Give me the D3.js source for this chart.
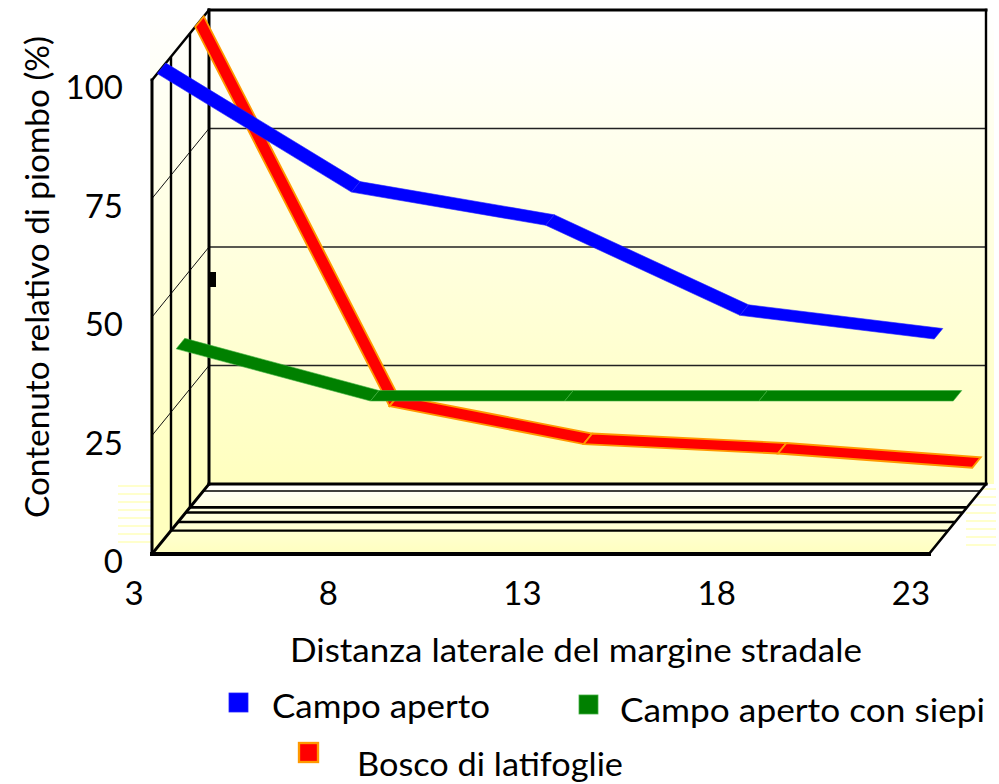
<!DOCTYPE html>
<html>
<head>
<meta charset="utf-8">
<script src="https://cdn.jsdelivr.net/npm/d3@7"></script>
<style>
  body { margin: 0; background: #fff; }
  svg { display: block; }
  text { font-family: Lato, "Open Sans", sans-serif; fill: #000; }
</style>
</head>
<body>
<svg id="chart" width="999" height="784"></svg>
<script>
// Distance from the road edge (m) and relative lead content (%)
const categories = [3, 8, 13, 18, 23];
const seriesNames = ["Campo aperto", "Campo aperto con siepi", "Bosco di latifoglie"];
const campoAperto = [100, 75, 68, 49, 44];
const campoApertoSiepi = [37, 26, 26, 26, 26];
const boscoLatifoglie = [100, 20, 12, 10, 7];
const valueTicks = [0, 25, 50, 75, 100];
const xTitle = "Distanza laterale del margine stradale";
const yTitle = "Contenuto relativo di piombo (%)";

const series = [
  { name: seriesNames[0], values: campoAperto, fill: "#0000ff", edge: "#2020ff", edgeW: 0.6 },
  { name: seriesNames[1], values: campoApertoSiepi, fill: "#008000", edge: "#40b040", edgeW: 0.6 },
  { name: seriesNames[2], values: boscoLatifoglie, fill: "#ff0000", edge: "#ff9900", edgeW: 1.8 }
];

const svg = d3.select("#chart");

// Front plane of the 3D box, plus the depth vector toward the back wall
const x = d3.scalePoint().domain(categories).range([152, 929]);
const y = d3.scaleLinear().domain([0, 100]).range([554, 80]);
const DX = 57, DY = -70;
const proj = (c, v, d) => [x(c) + DX * d, y(v) + DY * d];
const c0 = categories[0], cN = categories[categories.length - 1];
const vMin = 0, vMax = 100;

// Gradients
const defs = svg.append("defs");
const wallGrad = defs.append("linearGradient").attr("id", "wallGrad")
  .attr("gradientUnits", "userSpaceOnUse")
  .attr("x1", 0).attr("y1", 10).attr("x2", 0).attr("y2", 484);
wallGrad.append("stop").attr("offset", 0).attr("stop-color", "#ffffff");
wallGrad.append("stop").attr("offset", 1).attr("stop-color", "#ffffbf");
const floorGrad = defs.append("linearGradient").attr("id", "floorGrad")
  .attr("gradientUnits", "userSpaceOnUse")
  .attr("x1", 0).attr("y1", 484).attr("x2", 0).attr("y2", 554);
floorGrad.append("stop").attr("offset", 0).attr("stop-color", "#ffffff");
floorGrad.append("stop").attr("offset", 0.25).attr("stop-color", "#ffffe8");
floorGrad.append("stop").attr("offset", 1).attr("stop-color", "#ffffbf");

const line = d3.line();
const g = svg.append("g");

// Plot-area backdrop
const bTL = proj(c0, vMax, 1), bBR = proj(cN, vMin, 1);
g.append("rect")
  .attr("x", x(c0) - 2).attr("y", bTL[1])
  .attr("width", bBR[0] - x(c0) + 10).attr("height", bBR[1] - bTL[1])
  .attr("fill", "url(#wallGrad)");

// faint banding beside the floor
for (let i = 0; i < 8; i++) {
  const yy = 486 + i * 8;
  g.append("line").attr("x1", x(c0) - 34).attr("x2", x(c0)).attr("y1", yy).attr("y2", yy)
    .attr("stroke", "#ffffcc").attr("stroke-width", 2);
  g.append("line").attr("x1", bBR[0] - 20).attr("x2", bBR[0] + 10).attr("y1", yy + 3).attr("y2", yy + 3)
    .attr("stroke", "#ffffcc").attr("stroke-width", 2);
}

// Back wall
g.append("path")
  .attr("d", line([proj(c0, vMin, 1), proj(cN, vMin, 1), proj(cN, vMax, 1), proj(c0, vMax, 1)]) + "Z")
  .attr("fill", "url(#wallGrad)");
// Side wall
g.append("path")
  .attr("d", line([proj(c0, vMin, 0), proj(c0, vMin, 1), proj(c0, vMax, 1), proj(c0, vMax, 0)]) + "Z")
  .attr("fill", "url(#wallGrad)");
// Floor
g.append("path")
  .attr("d", line([proj(c0, vMin, 0), proj(cN, vMin, 0), proj(cN, vMin, 1), proj(c0, vMin, 1)]) + "Z")
  .attr("fill", "url(#floorGrad)");

// Value gridlines on back wall and side wall
valueTicks.filter(v => v > vMin && v < vMax).forEach(v => {
  g.append("path").attr("d", line([proj(c0, v, 1), proj(cN, v, 1)]))
    .attr("stroke", "#222").attr("stroke-width", 1.3).attr("fill", "none");
  g.append("path").attr("d", line([proj(c0, v, 0), proj(c0, v, 1)]))
    .attr("stroke", "#111").attr("stroke-width", 1).attr("fill", "none");
});

// Depth rules across the floor and up the side wall
const floorRules = [
  { d: 1 / 3, w: 2.2 }, { d: 0.457, w: 2.4 }, { d: 0.593, w: 2.4 },
  { d: 2 / 3, w: 2.6 }, { d: 0.9, w: 1.6 }
];
floorRules.forEach(r => {
  g.append("path").attr("d", line([proj(c0, vMin, r.d), proj(cN, vMin, r.d)]))
    .attr("stroke", "#000").attr("stroke-width", r.w).attr("fill", "none");
});
[1 / 3, 2 / 3].forEach(d => {
  g.append("path").attr("d", line([proj(c0, vMin, d), proj(c0, vMax, d)]))
    .attr("stroke", "#000").attr("stroke-width", 2.4).attr("fill", "none");
});

// Box edges
const edges = [
  { p: [proj(c0, vMin, 1), proj(cN, vMin, 1)], w: 3 },
  { p: [proj(c0, vMax, 1), proj(cN, vMax, 1)], w: 3 },
  { p: [proj(cN, vMin, 1), proj(cN, vMax, 1)], w: 2.4 },
  { p: [proj(c0, vMin, 1), proj(c0, vMax, 1)], w: 3 },
  { p: [proj(c0, vMin, 0), proj(c0, vMax, 0)], w: 3 },
  { p: [proj(c0, vMax, 0), proj(c0, vMax, 1)], w: 2.4 },
  { p: [proj(c0, vMin, 0), proj(c0, vMin, 1)], w: 3 },
  { p: [proj(cN, vMin, 0), proj(cN, vMin, 1)], w: 2.6 },
  { p: [proj(c0, vMin, 0), proj(cN, vMin, 0)], w: 4 }
];
edges.forEach(e => {
  g.append("path").attr("d", line(e.p)).attr("stroke", "#000")
    .attr("stroke-width", e.w).attr("fill", "none").attr("stroke-linecap", "square");
});
// small marker on the back wall edge
g.append("rect").attr("x", proj(c0, 50, 1)[0] + 1).attr("y", proj(c0, 50, 1)[1] + 25)
  .attr("width", 6).attr("height", 15).attr("fill", "#000");

// Ribbons: each series sits in its own depth row, back row drawn first
const rows = series.length;
const halfW = 0.075;
series.slice().reverse().forEach(s => {
  const k = series.indexOf(s);
  const dc = (k + 0.5) / rows;
  const d0 = dc - halfW, d1 = dc + halfW;
  const segs = d3.pairs(categories.map((c, i) => ({ c, v: s.values[i] })));
  g.append("g").selectAll("path").data(segs).join("path")
    .attr("d", ([a, b]) => line([proj(a.c, a.v, d0), proj(b.c, b.v, d0), proj(b.c, b.v, d1), proj(a.c, a.v, d1)]) + "Z")
    .attr("fill", s.fill)
    .attr("stroke", s.edge)
    .attr("stroke-width", s.edgeW)
    .attr("stroke-linejoin", "miter");
});

// Axis labels
const fs = 33;
svg.append("g").selectAll("text").data(valueTicks).join("text")
  .attr("x", 123).attr("y", v => y(v) + 19)
  .attr("text-anchor", "end").attr("font-size", fs)
  .text(d => d);
svg.append("g").selectAll("text").data(categories).join("text")
  .attr("x", c => x(c) - 18).attr("y", 605)
  .attr("text-anchor", "middle").attr("font-size", fs)
  .text(d => d);

svg.append("text").attr("x", 576).attr("y", 662).attr("text-anchor", "middle")
  .attr("font-size", fs).attr("textLength", 572).attr("lengthAdjust", "spacingAndGlyphs")
  .text(xTitle);
svg.append("text").attr("transform", "translate(49,277) rotate(-90)")
  .attr("text-anchor", "middle").attr("font-size", fs)
  .attr("textLength", 482).attr("lengthAdjust", "spacingAndGlyphs")
  .text(yTitle);

// Legend
const legend = [
  { s: series[0], sx: 229, sy: 693, tx: 272, ty: 718, tw: 218 },
  { s: series[1], sx: 579, sy: 695, tx: 620, ty: 722, tw: 365 },
  { s: series[2], sx: 299, sy: 743, tx: 357, ty: 776, tw: 266 }
];
const lg = svg.append("g");
legend.forEach(L => {
  lg.append("rect").attr("x", L.sx).attr("y", L.sy).attr("width", 19).attr("height", 19)
    .attr("fill", L.s.fill).attr("stroke", L.s.edge).attr("stroke-width", L.s.edgeW * 1.3);
  lg.append("text").attr("x", L.tx).attr("y", L.ty).attr("font-size", fs)
    .attr("textLength", L.tw).attr("lengthAdjust", "spacingAndGlyphs")
    .text(L.s.name);
});
</script>
</body>
</html>
